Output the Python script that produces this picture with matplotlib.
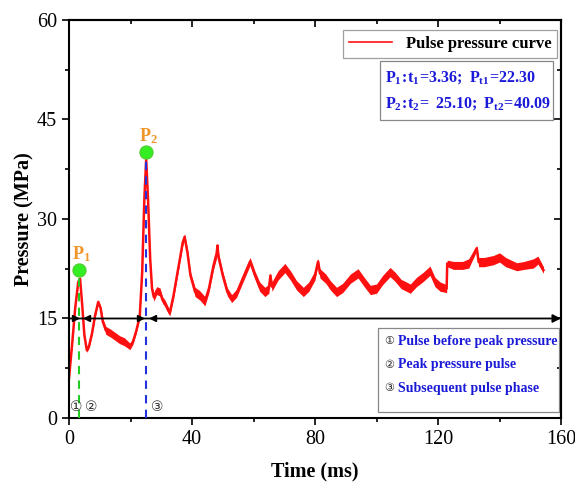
import matplotlib
matplotlib.use("Agg")
import matplotlib.pyplot as plt
from matplotlib.lines import Line2D
from matplotlib.patches import Rectangle
import numpy as np

plt.rcParams['font.family'] = ['Liberation Serif', 'DejaVu Sans']
plt.rcParams['mathtext.fontset'] = 'custom'
plt.rcParams['mathtext.rm'] = 'Liberation Serif:bold'
plt.rcParams['mathtext.it'] = 'Liberation Serif:bold'
plt.rcParams['mathtext.bf'] = 'Liberation Serif:bold'

# pressure curve: time (ms), pressure (MPa), noise half-width
t_ms = [0.0, 1.0, 2.0, 3.0, 3.6, 4.3, 5.0, 5.8, 6.5, 7.5,
        8.5, 9.5, 10.3, 11.0, 12.0, 13.5, 15.0, 16.5, 18.0, 19.8,
        20.8, 21.8, 23.0, 23.8, 24.5, 25.1, 25.7, 26.4, 27.0, 27.6,
        28.5, 29.6, 30.4, 31.2, 32.2, 32.8, 34.0, 35.5, 37.0, 37.6,
        38.5, 39.5, 41.0, 42.5, 44.2, 45.5, 47.0, 48.0, 48.3, 48.6,
        50.0, 51.5, 52.9, 54.5, 56.5, 58.9, 60.5, 62.0, 63.7, 65.0,
        65.5, 66.0, 68.0, 70.2, 72.0, 74.0, 76.2, 78.0, 80.0, 81.0,
        81.6, 83.5, 85.0, 87.0, 89.0, 91.5, 94.0, 96.0, 98.0, 100.0,
        102.0, 104.4, 106.0, 108.0, 111.0, 113.0, 115.0, 117.4, 119.0, 120.7,
        122.8, 123.0, 125.0, 128.0, 130.0, 132.6, 133.2, 135.0, 138.0, 140.0,
        142.0, 145.6, 148.0, 151.0, 152.5, 154.3]
p_mpa = [6.0, 11.0, 16.5, 20.5, 21.0, 17.0, 12.5, 10.2, 10.8, 12.8,
         15.5, 17.5, 16.5, 14.5, 13.2, 12.8, 12.3, 11.8, 11.5, 10.8,
         11.5, 13.0, 15.3, 22.0, 33.0, 39.0, 33.0, 24.0, 19.5, 18.2,
         19.2, 19.0, 17.8, 17.3, 16.3, 15.9, 18.5, 22.5, 26.5, 27.3,
         25.0, 21.5, 19.0, 18.5, 17.6, 19.5, 23.0, 24.8, 26.0, 24.3,
         21.5, 19.0, 18.0, 18.8, 21.0, 23.6, 21.5, 19.8, 19.0, 19.5,
         21.5, 19.8, 21.5, 22.6, 21.5, 20.0, 19.0, 19.8, 21.5, 23.6,
         21.8, 21.0, 20.0, 19.0, 19.6, 21.0, 21.8, 20.5, 19.3, 19.5,
         20.8, 22.0, 21.3, 20.2, 19.5, 20.5, 21.2, 22.2, 20.5, 19.8,
         19.5, 23.3, 23.0, 23.0, 23.3, 25.6, 23.5, 23.5, 23.8, 24.2,
         23.5, 22.8, 23.0, 23.3, 23.8, 22.3]
spread = [0.2, 0.2, 0.2, 0.3, 0.3, 0.3, 0.3, 0.3, 0.3, 0.3,
          0.3, 0.3, 0.4, 0.5, 0.6, 0.6, 0.6, 0.6, 0.6, 0.5,
          0.4, 0.3, 0.3, 0.3, 0.3, 0.3, 0.3, 0.3, 0.4, 0.6,
          0.6, 0.6, 0.5, 0.5, 0.5, 0.5, 0.5, 0.5, 0.5, 0.5,
          0.5, 0.5, 0.7, 0.7, 0.7, 0.6, 0.6, 0.7, 0.4, 0.7,
          0.6, 0.6, 0.6, 0.6, 0.6, 0.6, 0.6, 0.7, 0.7, 0.7,
          0.3, 0.7, 0.7, 0.7, 0.7, 0.7, 0.7, 0.7, 0.7, 0.4,
          0.7, 0.7, 0.7, 0.7, 0.7, 0.7, 0.7, 0.7, 0.7, 0.7,
          0.7, 0.7, 0.7, 0.7, 0.7, 0.7, 0.7, 0.7, 0.7, 0.7,
          0.6, 0.5, 0.6, 0.6, 0.7, 0.4, 0.7, 0.7, 0.7, 0.7,
          0.7, 0.6, 0.6, 0.7, 0.6, 0.5]

# peaks
peak_t = [3.36, 25.10]
peak_p = [22.30, 40.09]
peak_names = ['P$_1$', 'P$_2$']
peak_colors = ['#22cc22', '#2233dd']

# phase divider line and arrow heads on it
divider_p = 15
arrow_right_t = [2.0, 23.1]
arrow_left_t = [5.7, 27.4]
phase_marks = ['①', '②', '③']
phase_mark_t = [2.2, 7.2, 28.6]
phase_texts = ['Pulse before peak pressure', 'Peak pressure pulse',
               'Subsequent pulse phase']

x_ticks = [0, 40, 80, 120, 160]
y_ticks = [0, 15, 30, 45, 60]

t_ms = np.array(t_ms)
p_mpa = np.array(p_mpa)
spread = np.array(spread)

fig = plt.figure(figsize=(5.75, 4.83), dpi=100)
ax = fig.add_axes([0.12, 0.1346, 0.8557, 0.824])

red = '#ff1010'
ax.fill_between(t_ms, p_mpa - spread, p_mpa + spread, color=red, lw=0)
ax.plot(t_ms, p_mpa, color=red, lw=1.8)

# dashed guides down to the x axis
for tp, pp, c in zip(peak_t, peak_p, peak_colors):
    ax.plot([tp, tp], [0, pp], color=c, ls=(0, (4, 3)), lw=1.5, zorder=3)
ax.scatter(peak_t, peak_p, s=90, color='#33ee22', edgecolor='#55cc33',
           linewidth=0.8, zorder=5)
for tp, pp, name in zip(peak_t, peak_p, peak_names):
    ax.text(tp + 0.6, pp + 2.4, name, color='#f0952a', fontsize=13,
            fontweight='bold', ha='center', va='center')

# divider line with arrow
ax.annotate('', xy=(160, divider_p), xytext=(0, divider_p),
            arrowprops=dict(arrowstyle='-|>', color='black', lw=1.3,
                            mutation_scale=12, shrinkA=0, shrinkB=0),
            annotation_clip=False)
ax.plot(arrow_right_t, [divider_p] * 2, ls='none', marker='>', ms=5,
        color='black', zorder=4)
ax.plot(arrow_left_t, [divider_p] * 2, ls='none', marker='<', ms=5,
        color='black', zorder=4)

for mt, mk in zip(phase_mark_t, phase_marks):
    ax.text(mt, 1.6, mk, fontsize=10, ha='center', va='center',
            color='#333333', family=['DejaVu Sans', 'Noto Sans CJK SC'])

ax.set_xlim(0, 160)
ax.set_ylim(0, 60)
ax.set_xticks(x_ticks)
ax.set_yticks(y_ticks)
ax.set_xticks(np.arange(20, 160, 40), minor=True)
ax.set_yticks(np.arange(7.5, 60, 15), minor=True)
ax.tick_params(which='both', direction='out', width=1.2, labelsize=14.5,
               top=False, right=False)
ax.tick_params(which='major', length=5)
ax.tick_params(which='minor', length=3)
for sp in ax.spines.values():
    sp.set_linewidth(1.5)

# inward ticks on top and right
axt = ax.secondary_xaxis('top')
axt.set_xticks(x_ticks)
axt.set_xticks(np.arange(20, 160, 40), minor=True)
axt.tick_params(which='both', direction='in', labeltop=False, width=1.2)
axt.tick_params(which='major', length=5)
axt.tick_params(which='minor', length=3)
axr = ax.secondary_yaxis('right')
axr.set_yticks(y_ticks)
axr.set_yticks(np.arange(7.5, 60, 15), minor=True)
axr.tick_params(which='both', direction='in', labelright=False, width=1.2)
axr.tick_params(which='major', length=5)
axr.tick_params(which='minor', length=3)
axt.spines['top'].set_linewidth(1.5)
axr.spines['right'].set_linewidth(1.5)

ax.set_xlabel('Time (ms)', fontsize=14.5, fontweight='bold', labelpad=9)
ax.set_ylabel('Pressure (MPa)', fontsize=14.5, fontweight='bold', labelpad=2)

# legend
handle = Line2D([0], [0], color=red, lw=1.2)
leg = ax.legend([handle], ['Pulse pressure curve'], loc='upper right',
                bbox_to_anchor=(0.992, 0.975), borderaxespad=0,
                fancybox=False, edgecolor='#888888', handlelength=2.6,
                borderpad=0.35,
                prop={'family': 'Liberation Serif', 'weight': 'bold',
                      'size': 12})
leg.get_frame().set_linewidth(0.9)

# peak value box
ax.add_patch(Rectangle((0.632, 0.749), 0.352, 0.148, transform=ax.transAxes,
                       fill=False, edgecolor='#888888', lw=0.9))
ax.text(0.643, 0.855, r'$\mathrm{P_1\!:\!t_1\!=\!3.36;\ P_{t1}\!=\!22.30}$',
        transform=ax.transAxes, color='#1a1ad8', fontsize=11.5, va='center')
ax.text(0.643, 0.790, r'$\mathrm{P_2\!:\!t_2\!=\ 25.10;\ P_{t2}\!=\!40.09}$',
        transform=ax.transAxes, color='#1a1ad8', fontsize=11.5, va='center')

# phase description box
ax.add_patch(Rectangle((0.628, 0.015), 0.368, 0.211, transform=ax.transAxes,
                       fill=False, edgecolor='#888888', lw=0.9))
for i, (mk, txt) in enumerate(zip(phase_marks, phase_texts)):
    y = 0.193 - i * 0.059
    ax.text(0.651, y, mk, transform=ax.transAxes, fontsize=8, ha='center',
            va='center', color='#222222',
            family=['DejaVu Sans', 'Noto Sans CJK SC'])
    ax.text(0.668, y, txt, transform=ax.transAxes, fontsize=10,
            fontweight='bold', color='#1a1ad8', va='center')

fig.savefig('out.png', dpi=100)
